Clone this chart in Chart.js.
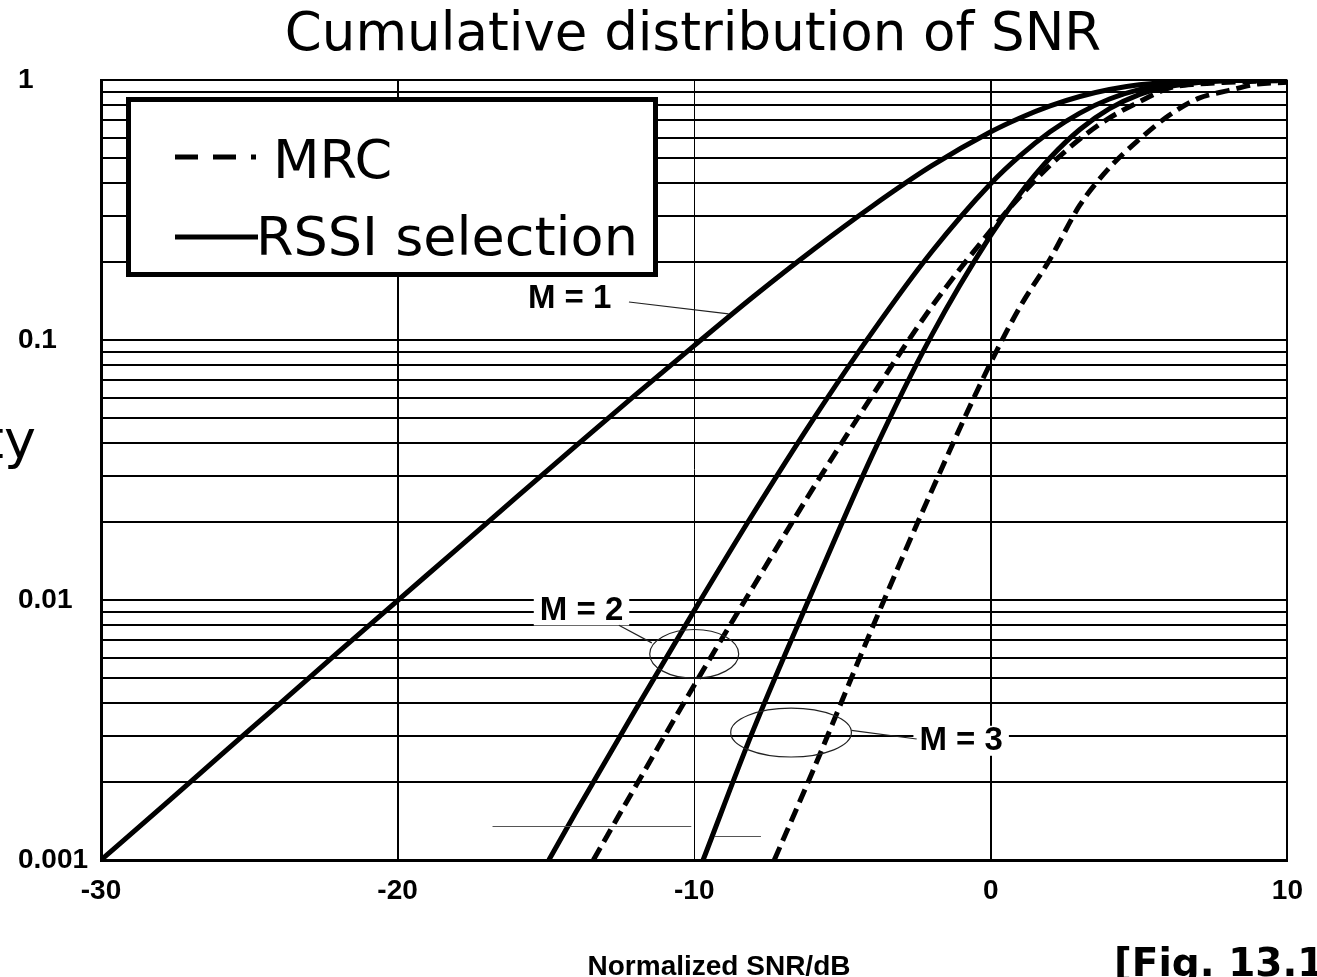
<!DOCTYPE html>
<html>
<head>
<meta charset="utf-8">
<script src="https://cdn.jsdelivr.net/npm/chart.js@4/dist/chart.umd.min.js"></script>
<style>
  html, body { margin: 0; padding: 0; background: #fff; overflow: hidden; }
</style>
</head>
<body>
<canvas id="chart-snr" width="1317" height="977"></canvas>
<script>
/* snr-cdf — cumulative distribution of SNR, MRC vs RSSI selection, M = 1..3 */

// values (normalized SNR in dB, probability)
const snrSelM1 = [-30, -28, -26, -24, -22, -20, -18, -16, -14, -12, -10, -8, -6, -4, -2, 0, 1, 2, 3, 4, 5, 6, 7, 8, 10];
const probSelM1 = [0.001, 0.00158, 0.00251, 0.00397, 0.0063, 0.00995, 0.0157, 0.0248, 0.0391, 0.0612, 0.0952, 0.147, 0.222, 0.327, 0.467, 0.632, 0.716, 0.795, 0.864, 0.919, 0.958, 0.981, 0.993, 0.998, 1.0];

const snrSelM2 = [-14.9, -14, -12, -10, -8, -6, -4, -2, 0, 1, 2, 3, 4, 5, 6, 7, 8, 10];
const probSelM2 = [0.001, 0.00152, 0.00375, 0.0091, 0.0216, 0.0493, 0.107, 0.218, 0.400, 0.513, 0.632, 0.746, 0.845, 0.918, 0.962, 0.986, 0.996, 1.0];

const snrSelM3 = [-9.7, -8, -6, -4, -2, 0, 1, 2, 3, 4, 5, 6, 7, 8, 10];
const probSelM3 = [0.001, 0.00318, 0.0109, 0.036, 0.104, 0.253, 0.367, 0.502, 0.645, 0.776, 0.879, 0.944, 0.979, 0.994, 1.0];

const snrMrcM2 = [-13.4, -12, -10, -8, -6, -4, -2, 0, 1, 2, 3, 4, 5, 6, 7, 8, 9, 10];
const probMrcM2 = [0.001, 0.0019, 0.0047, 0.0113, 0.0268, 0.061, 0.134, 0.264, 0.358, 0.470, 0.593, 0.715, 0.824, 0.93, 0.965, 0.98, 0.99, 0.995];

const snrMrcM3 = [-7.3, -6, -4, -2, 0, 1, 2, 3, 4, 5, 6, 7, 8, 9, 10];
const probMrcM3 = [0.001, 0.0022, 0.0078, 0.0262, 0.082, 0.135, 0.205, 0.33, 0.46, 0.59, 0.73, 0.85, 0.91, 0.965, 0.98];

const xTicks = [-30, -20, -10, 0, 10];
const yMajorTicks = [0.001, 0.01, 0.1, 1];
const yMajorLabels = ["0.001", "0.01", "0.1", "1"];
const legendLabels = ["MRC", "RSSI selection"];

// log grid: 1..9 in every decade
const yGridTicks = [];
for (let e = -3; e < 0; e++) for (let s = 1; s < 10; s++) yGridTicks.push(+(s * Math.pow(10, e)).toPrecision(3));
yGridTicks.push(1);

const toPoints = (xs, ys) => xs.map((x, i) => ({ x, y: ys[i] }));

const solid = (data) => ({ data, borderColor: "#000", borderWidth: 5, pointRadius: 0, fill: false, cubicInterpolationMode: "monotone" });
const dashed = (data) => ({ ...solid(data), borderWidth: 5, borderDash: [14, 7] });

// annotations, in data units
const notes = {
  labels: [
    { text: "M = 1", x: -14.2, y: 0.145, bg: false },
    { text: "M = 2", x: -13.8, y: 0.0092, bg: true },
    { text: "M = 3", x: -1.0, y: 0.0029, bg: true },
  ],
  leaders: [
    [-12.2, 0.140, -8.84, 0.126],
    [-12.54, 0.0080, -11.43, 0.00684],
    [-4.7, 0.00315, -2.5, 0.00292],
  ],
  ellipses: [
    [-11.5, -8.5, 0.0050, 0.0077],
    [-8.77, -4.7, 0.00249, 0.00384],
  ],
  strays: [
    [-16.8, -10.1, 0.00135],
    [-9.3, -7.75, 0.00124],
  ],
};

const FONT_SANS = "'DejaVu Sans', Verdana, sans-serif";
const FONT_ARIAL = "'Liberation Sans', Arial, sans-serif";
const NOTE_FONT = `bold 33px ${FONT_ARIAL}`;

const decorPlugin = {
  id: "decor",
  beforeDatasetsDraw(chart) {
    const { ctx, scales: { x, y } } = chart;
    ctx.save();
    ctx.font = NOTE_FONT;
    ctx.fillStyle = "#fff";
    notes.labels.filter((l) => l.bg).forEach((l) => {
      const w = ctx.measureText(l.text).width;
      const cx = x.getPixelForValue(l.x), cy = y.getPixelForValue(l.y);
      ctx.fillRect(cx - w / 2 - 6, cy - 14, w + 12, 30);
    });
    ctx.restore();
  },
  afterDatasetsDraw(chart) {
    const { ctx, scales: { x, y } } = chart;
    ctx.save();

    // thin annotation strokes
    ctx.strokeStyle = "#222";
    ctx.lineWidth = 1.2;
    notes.leaders.forEach(([x1, y1, x2, y2]) => {
      ctx.beginPath();
      ctx.moveTo(x.getPixelForValue(x1), y.getPixelForValue(y1));
      ctx.lineTo(x.getPixelForValue(x2), y.getPixelForValue(y2));
      ctx.stroke();
    });
    notes.ellipses.forEach(([x1, x2, y1, y2]) => {
      const l = x.getPixelForValue(x1), r = x.getPixelForValue(x2);
      const b = y.getPixelForValue(y1), t = y.getPixelForValue(y2);
      ctx.beginPath();
      ctx.ellipse((l + r) / 2, (t + b) / 2, (r - l) / 2, (b - t) / 2, 0, 0, Math.PI * 2);
      ctx.stroke();
    });
    ctx.strokeStyle = "#555";
    notes.strays.forEach(([x1, x2, yv]) => {
      const py = Math.round(y.getPixelForValue(yv)) + 0.5;
      ctx.beginPath();
      ctx.moveTo(x.getPixelForValue(x1), py);
      ctx.lineTo(x.getPixelForValue(x2), py);
      ctx.stroke();
    });

    ctx.fillStyle = "#000";
    ctx.font = NOTE_FONT;
    ctx.textAlign = "center";
    ctx.textBaseline = "middle";
    notes.labels.forEach((l) => ctx.fillText(l.text, x.getPixelForValue(l.x), y.getPixelForValue(l.y) + 1));

    // legend box
    ctx.fillStyle = "#fff";
    ctx.fillRect(128, 99, 528, 176);
    ctx.strokeStyle = "#000";
    ctx.lineWidth = 5;
    ctx.strokeRect(128.5, 99.5, 527, 175);
    ctx.setLineDash([23, 15]);
    ctx.beginPath(); ctx.moveTo(175, 157); ctx.lineTo(256, 157); ctx.stroke();
    ctx.setLineDash([]);
    ctx.beginPath(); ctx.moveTo(175, 237); ctx.lineTo(258, 237); ctx.stroke();
    ctx.fillStyle = "#000";
    ctx.font = `54px ${FONT_SANS}`;
    ctx.textAlign = "left";
    ctx.textBaseline = "alphabetic";
    ctx.fillText(legendLabels[0], 273, 178);
    ctx.fillText(legendLabels[1], 256, 255);

    ctx.restore();
  },
  afterDraw(chart) {
    const { ctx } = chart;
    ctx.save();
    ctx.fillStyle = "#000";
    ctx.textBaseline = "alphabetic";
    ctx.font = `53px ${FONT_SANS}`;
    ctx.textAlign = "center";
    ctx.fillText("Cumulative distribution of SNR", 693, 50);
    ctx.font = `54px ${FONT_SANS}`;
    ctx.textAlign = "right";
    ctx.fillText("Probability", 36, 458);
    ctx.font = `bold 28px ${FONT_ARIAL}`;
    ctx.textAlign = "center";
    ctx.fillText("Normalized SNR/dB", 719, 975);
    ctx.font = `bold 39px ${FONT_SANS}`;
    ctx.textAlign = "left";
    ctx.fillText("[Fig. 13.16]", 1114, 976);
    ctx.restore();
  },
};

new Chart(document.getElementById("chart-snr"), {
  type: "line",
  data: {
    datasets: [
      solid(toPoints(snrSelM1, probSelM1)),
      solid(toPoints(snrSelM2, probSelM2)),
      solid(toPoints(snrSelM3, probSelM3)),
      dashed(toPoints(snrMrcM2, probMrcM2)),
      dashed(toPoints(snrMrcM3, probMrcM3)),
    ],
  },
  options: {
    responsive: false,
    animation: false,
    devicePixelRatio: 1,
    layout: { padding: { left: 18, top: 80, right: 27, bottom: 0 } },
    plugins: { legend: { display: false }, tooltip: { enabled: false }, title: { display: false } },
    scales: {
      x: {
        type: "linear", min: -30, max: 10,
        afterBuildTicks: (s) => { s.ticks = xTicks.map((v) => ({ value: v })); },
        afterFit: (s) => { s.height = 117; },
        grid: { color: "#000", lineWidth: (c) => (c.tick && c.tick.value === -10 ? 1 : 2), drawTicks: false },
        border: { display: true, color: "#000", width: 3 },
        ticks: { color: "#000", padding: 14, font: { family: FONT_ARIAL, size: 28, weight: "bold" }, maxRotation: 0, autoSkip: false },
      },
      y: {
        type: "logarithmic", min: 0.001, max: 1,
        afterBuildTicks: (s) => { s.ticks = yGridTicks.map((v) => ({ value: v })); },
        afterFit: (s) => { s.width = 83; },
        grid: { color: "#000", lineWidth: 2, drawTicks: false },
        border: { display: true, color: "#000", width: 3 },
        ticks: {
          color: "#000", crossAlign: "far", autoSkip: false,
          font: { family: FONT_ARIAL, size: 28, weight: "bold" },
          callback: (v) => {
            const i = yMajorTicks.findIndex((m) => Math.abs(m - v) / m < 1e-6);
            return i >= 0 ? yMajorLabels[i] : "";
          },
        },
      },
    },
  },
  plugins: [decorPlugin],
});
</script>
</body>
</html>
